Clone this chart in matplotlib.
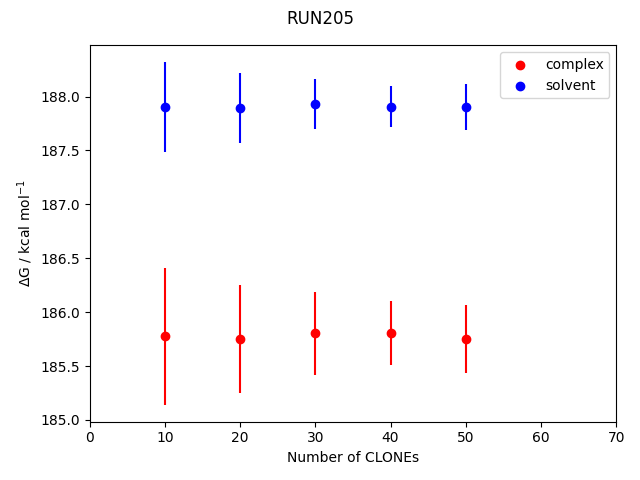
import numpy as np
import matplotlib.pyplot as plt

# Number of clones
clones = [10, 20, 30, 40, 50]

# Free energies and errors
complex_dg = [185.775, 185.75, 185.803, 185.803, 185.75]
complex_err = [0.633, 0.503, 0.387, 0.297, 0.313]
solvent_dg = [187.904, 187.895, 187.932, 187.904, 187.904]
solvent_err = [0.415, 0.328, 0.235, 0.19, 0.21]

fig, ax = plt.subplots(figsize=(6.4, 4.8), dpi=100)
ax.scatter(clones, complex_dg, color='red', label='complex')
ax.errorbar(clones, complex_dg, yerr=complex_err, fmt='none', ecolor='red')
ax.scatter(clones, solvent_dg, color='blue', label='solvent')
ax.errorbar(clones, solvent_dg, yerr=solvent_err, fmt='none', ecolor='blue')
ax.set_xlim(0, 70)
ax.set_xlabel('Number of CLONEs')
ax.set_ylabel(r'$\Delta$G / kcal mol$^{-1}$')
ax.legend()
fig.suptitle('RUN205')
fig.tight_layout()
fig.subplots_adjust(top=0.906)
fig.savefig('out.png')
